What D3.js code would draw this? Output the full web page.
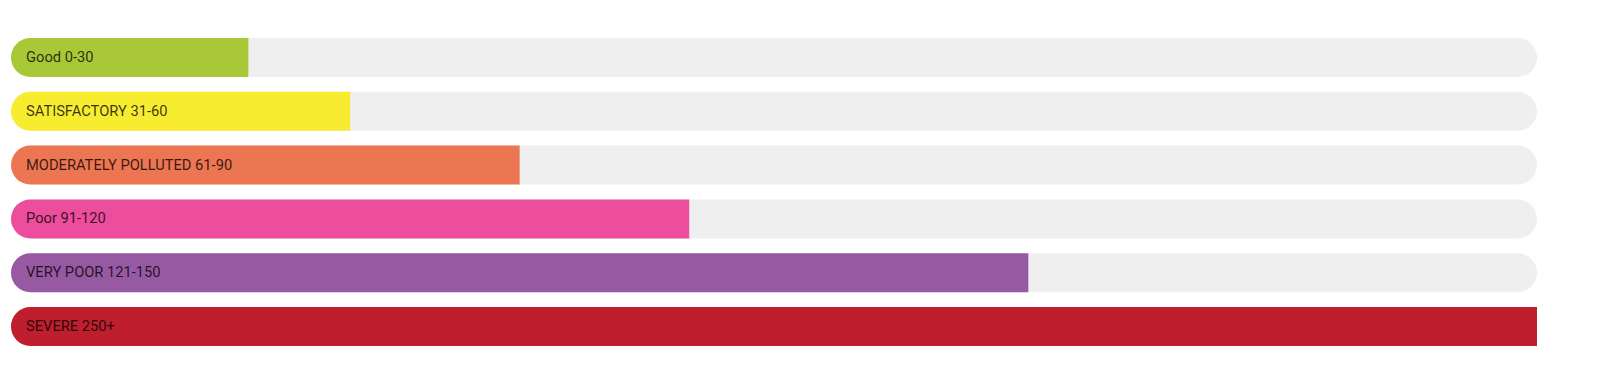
<!DOCTYPE html>
<html>
<head>
<meta charset="utf-8">
<script src="https://cdn.jsdelivr.net/npm/d3@7"></script>
<style>
  body { margin: 0; background: #fff; }
  text { font-family: Roboto, "Noto Sans", sans-serif; }
</style>
</head>
<body>
<svg width="1597" height="384"></svg>
<script>
var labels = ["Good 0-30", "SATISFACTORY 31-60", "MODERATELY POLLUTED 61-90", "Poor 91-120", "VERY POOR 121-150", "SEVERE 250+"];
var values = [14, 20, 30, 40, 60, 90];
var maxValue = 90;
var colors = ["#a9c838", "#f8ec31", "#ec7552", "#ec4d9d", "#9859a3", "#be1e2d"];

var svg = d3.select("svg"),
    width = +svg.attr("width"),
    height = +svg.attr("height");

var data = labels.map(function(l, i) {
  return { label: l, value: values[i], color: colors[i] };
});

var x = d3.scaleLinear()
  .domain([0, maxValue])
  .range([11, 1537]);

var y = d3.scaleBand()
  .domain(labels)
  .range([38, 346])
  .paddingInner(0.275)
  .paddingOuter(0);

var h = y.bandwidth(),
    r = h / 2;

// path with rounded left corners only
function leftRounded(x0, y0, w, hh, rr) {
  return "M" + (x0 + rr) + "," + y0 +
    "H" + (x0 + w) +
    "V" + (y0 + hh) +
    "H" + (x0 + rr) +
    "A" + rr + "," + rr + " 0 0 1 " + x0 + "," + (y0 + hh - rr) +
    "A" + rr + "," + rr + " 0 0 1 " + (x0 + rr) + "," + y0 + "Z";
}

var rows = svg.selectAll(".row")
  .data(data)
  .enter().append("g")
  .attr("class", "row");

rows.append("rect")
  .attr("x", x(0))
  .attr("y", function(d) { return y(d.label); })
  .attr("width", x(maxValue) - x(0))
  .attr("height", h)
  .attr("rx", r)
  .attr("ry", r)
  .attr("fill", "#efefef");

rows.append("path")
  .attr("d", function(d) { return leftRounded(x(0), y(d.label), x(d.value) - x(0), h, r); })
  .attr("fill", function(d) { return d.color; });

rows.append("text")
  .attr("x", x(0) + 15)
  .attr("y", function(d) { return y(d.label) + h / 2 + 4.5; })
  .text(function(d) { return d.label; })
  .style("font-size", "14.7px")
  .style("fill", "#000")
  .style("fill-opacity", 0.78);
</script>
</body>
</html>
